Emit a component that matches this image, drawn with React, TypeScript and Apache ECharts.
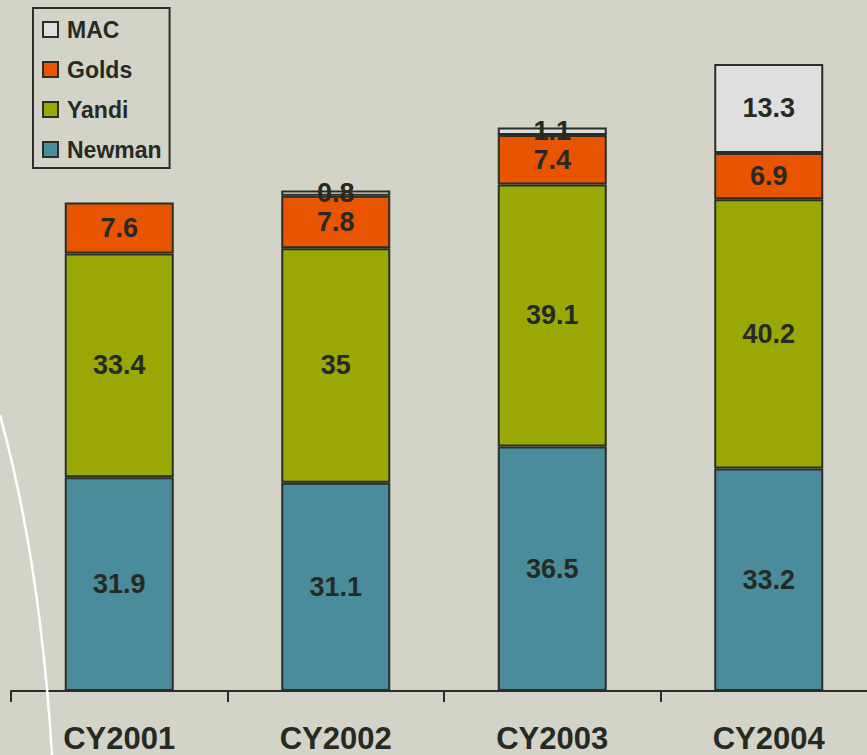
import React, { useEffect, useRef } from "react";
import * as echarts from "echarts";

const categories = ["CY2001", "CY2002", "CY2003", "CY2004"];
const newman = [31.9, 31.1, 36.5, 33.2];
const yandi = [33.4, 35, 39.1, 40.2];
const golds = [7.6, 7.8, 7.4, 6.9];
const mac: (number | null)[] = [null, 0.8, 1.1, 13.3];
const legendOrder = ["MAC", "Golds", "Yandi", "Newman"];

const FONT = "'Liberation Sans', Arial, sans-serif";
const INK = "#262a23";
const EDGE = "#2a2e27";

export default function App() {
  const ref = useRef<HTMLDivElement>(null);

  useEffect(() => {
    if (!ref.current) return;
    const chart = echarts.init(ref.current, undefined, { renderer: "svg" });

    const mkSeries = (name: string, data: (number | null)[], color: string) => ({
      name,
      type: "bar",
      stack: "total",
      data,
      barWidth: 109,
      itemStyle: { color, borderColor: EDGE, borderWidth: 2 },
      label: {
        show: true,
        position: "inside",
        color: INK,
        fontFamily: FONT,
        fontWeight: "bold",
        fontSize: 27,
        formatter: (p: any) => (p.value == null ? "" : String(p.value)),
      },
    });

    chart.setOption({
      animation: false,
      backgroundColor: "#d3d3c7",
      grid: {
        left: 11,
        top: 21,
        bottom: 64,
        width: 866,
        outerBoundsMode: "none",
        containLabel: false,
      },
      legend: {
        data: legendOrder,
        orient: "vertical",
        left: 33,
        top: 8,
        icon: "rect",
        itemWidth: 15,
        itemHeight: 15,
        itemGap: 17,
        padding: [10, 8, 7, 9],
        borderColor: EDGE,
        borderWidth: 2,
        textStyle: {
          color: INK,
          fontFamily: FONT,
          fontWeight: "bold",
          fontSize: 23,
          lineHeight: 22,
          padding: [0, 0, 0, 4],
        },
      },
      xAxis: {
        type: "category",
        data: categories,
        axisLine: { lineStyle: { color: EDGE, width: 2 } },
        axisTick: { show: true, length: 11, lineStyle: { color: EDGE, width: 2 } },
        axisLabel: {
          color: INK,
          fontFamily: FONT,
          fontWeight: "bold",
          fontSize: 31,
          lineHeight: 30,
          margin: 32,
        },
      },
      yAxis: { type: "value", min: 0, max: 100, show: false },
      series: [
        mkSeries("Newman", newman, "#4a8b9c"),
        mkSeries("Yandi", yandi, "#9aa806"),
        mkSeries("Golds", golds, "#e85400"),
        mkSeries("MAC", mac, "#dfdfdf"),
      ],
      graphic: [
        {
          type: "bezierCurve",
          z: 100,
          shape: { x1: 0, y1: 415, cpx1: 40, cpy1: 560, x2: 52, y2: 755 },
          style: { stroke: "#ffffff", lineWidth: 2.5, fill: "none" },
        },
      ],
    });

    return () => chart.dispose();
  }, []);

  return (
    <div
      ref={ref}
      style={{ position: "absolute", left: 0, top: 0, width: 867, height: 755 }}
    />
  );
}
